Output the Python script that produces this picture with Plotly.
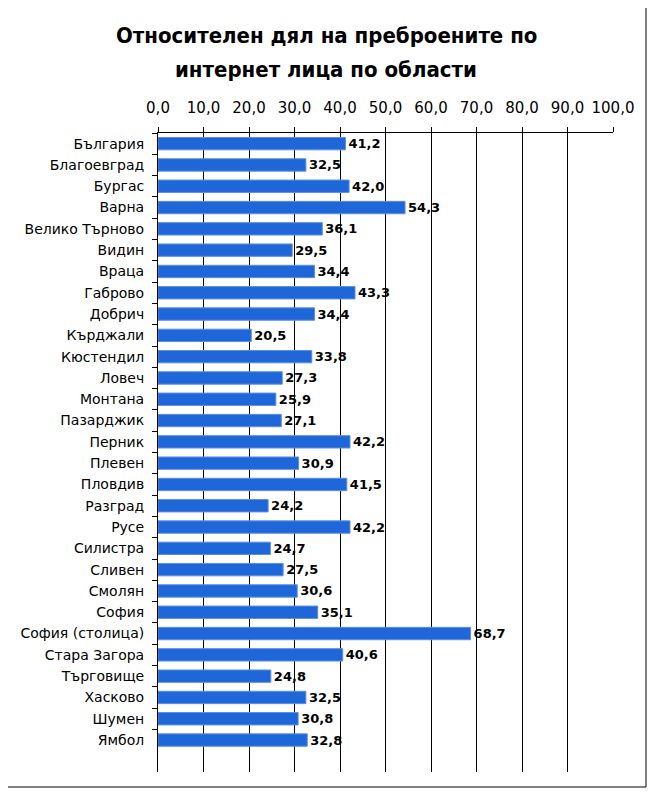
import plotly.graph_objects as go

# области и стойности (%)
regions = ["България", "Благоевград", "Бургас", "Варна", "Велико Търново", "Видин",
           "Враца", "Габрово", "Добрич", "Кърджали", "Кюстендил", "Ловеч", "Монтана",
           "Пазарджик", "Перник", "Плевен", "Пловдив", "Разград", "Русе", "Силистра",
           "Сливен", "Смолян", "София", "София (столица)", "Стара Загора", "Търговище",
           "Хасково", "Шумен", "Ямбол"]
share = [41.2, 32.5, 42.0, 54.3, 36.1, 29.5, 34.4, 43.3, 34.4, 20.5, 33.8, 27.3, 25.9,
         27.1, 42.2, 30.9, 41.5, 24.2, 42.2, 24.7, 27.5, 30.6, 35.1, 68.7, 40.6, 24.8,
         32.5, 30.8, 32.8]
title_lines = ["Относителен дял на преброените по", "интернет лица по области"]

# страницата има 8px отстъп на body -> компенсираме
OFF = 8
W, H = 655 - OFF, 796 - OFF
L, R, T, B = 158 - OFF, 42, 133 - OFF, 24
pw, ph = W - L - R, H - T - B

def px_x(p):
    return (p - OFF - L) / pw

def px_y(p):
    return (H - B - (p - OFF)) / ph

font = "DejaVu Sans"

fig = go.Figure(go.Bar(
    x=share, y=regions, orientation="h",
    marker=dict(color="#1f66d8", line=dict(color="#5a8fe6", width=1)),
    texttemplate="%{x:.1f}", textposition="outside", cliponaxis=False,
    constraintext="none",
    textfont=dict(family=font, size=13, color="black", weight="bold"),
))

fig.update_layout(
    width=W, height=H,
    margin=dict(l=L, r=R, t=T, b=B),
    paper_bgcolor="white", plot_bgcolor="white",
    separators=", ",
    showlegend=False,
    bargap=0.42,
    xaxis=dict(side="top", range=[0, 100], dtick=10, tickformat=".1f",
               showgrid=True, gridcolor="black", gridwidth=1,
               showline=True, linecolor="black", linewidth=1,
               ticks="outside", ticklen=5, tickcolor="black",
               tickfont=dict(family=font, size=15, color="black"),
               ticklabelstandoff=8, automargin=False,
               zeroline=False, fixedrange=True),
    yaxis=dict(type="category", categoryorder="array", categoryarray=regions,
               range=[len(regions) - 0.5 + 1, -0.5],
               tickson="boundaries", ticks="outside", ticklen=5, tickcolor="black",
               showline=True, linecolor="black", linewidth=1,
               tickfont=dict(family=font, size=14, color="black"),
               ticklabelstandoff=10, automargin=False, showgrid=False),
    shapes=[dict(type="rect", xref="paper", yref="paper",
                 x0=px_x(7), x1=px_x(646), y0=px_y(787), y1=px_y(5),
                 line=dict(color="black", width=1), fillcolor="rgba(0,0,0,0)")],
)

for line, ypix in zip(title_lines, [35, 70]):
    fig.add_annotation(text=line, xref="paper", yref="paper",
                       x=px_x(326), y=px_y(ypix), showarrow=False,
                       xanchor="center", yanchor="middle",
                       font=dict(family="DejaVu Sans Condensed", size=22,
                                 color="black", weight="bold"))

fig.write_html("out.html")
